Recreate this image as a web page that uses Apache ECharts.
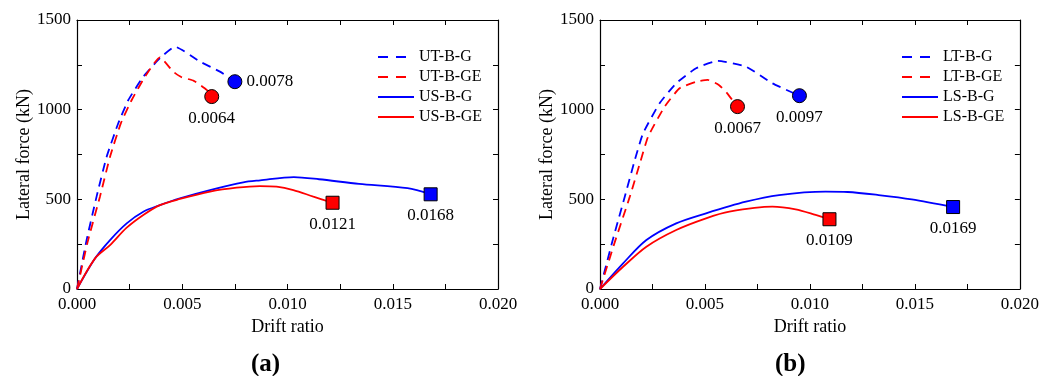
<!DOCTYPE html>
<html>
<head>
<meta charset="utf-8">
<script src="https://cdn.jsdelivr.net/npm/echarts@6/dist/echarts.min.js"></script>
<style>
  html, body { margin: 0; padding: 0; background: #fff; }
  #chart { width: 1042px; height: 376px; }
</style>
</head>
<body>
<div id="chart"></div>
<script>
// [drift ratio, lateral force kN]
const UT_B_G = [[0, 0], [0.00045, 270], [0.00093, 515], [0.00141, 738], [0.00196, 924], [0.00244, 1054],
  [0.00315, 1184], [0.00394, 1287], [0.00466, 1351], [0.00584, 1268], [0.00679, 1212], [0.0075, 1156]];
const UT_B_GE = [[0, 0], [0.0005, 260], [0.00109, 515], [0.00157, 738], [0.00209, 926], [0.0026, 1054],
  [0.00323, 1184], [0.00394, 1292], [0.00457, 1212], [0.00497, 1181], [0.00553, 1162], [0.00616, 1110], [0.0064, 1073]];
const US_B_G = [[0, 0], [0.00086, 171], [0.00157, 273], [0.00236, 366], [0.00315, 431], [0.00394, 468],
  [0.00489, 506], [0.00632, 552], [0.0079, 595], [0.0087, 606], [0.0103, 624], [0.0115, 612],
  [0.0134, 586], [0.0157, 562], [0.0168, 528]];
const US_B_GE = [[0, 0], [0.00086, 171], [0.00157, 245], [0.00236, 342], [0.00315, 413], [0.00394, 468],
  [0.00489, 502], [0.00632, 543], [0.00758, 565], [0.00869, 574], [0.00948, 571], [0.01028, 552],
  [0.01123, 515], [0.01214, 481]];

const LT_B_G = [[0, 0], [0.0006, 270], [0.00118, 515], [0.00166, 720], [0.00205, 868], [0.00284, 1036],
  [0.00363, 1147], [0.00458, 1231], [0.00561, 1272], [0.00695, 1240], [0.00821, 1147], [0.0095, 1078]];
const LT_B_GE = [[0, 0], [0.0007, 260], [0.00142, 515], [0.0019, 701], [0.00229, 849], [0.00308, 1017],
  [0.00379, 1119], [0.00458, 1156], [0.00513, 1166], [0.00566, 1138], [0.00606, 1091], [0.0063, 1054], [0.00655, 1017]];
const LS_B_G = [[0, 0], [0.0011, 143], [0.00221, 273], [0.00363, 366], [0.00505, 422], [0.00695, 487],
  [0.00853, 524], [0.01074, 543], [0.0118, 541], [0.01327, 524], [0.01485, 500], [0.01682, 457]];
const LS_B_GE = [[0, 0], [0.0011, 124], [0.00221, 236], [0.00363, 329], [0.00505, 394], [0.00616, 431],
  [0.00821, 459], [0.00932, 444], [0.01027, 413], [0.01093, 389]];

// end points: [drift, force, label text, label side]
const endsA = [[0.0075, 1156, '0.0078', 'right'], [0.0064, 1073, '0.0064', 'bottom'],
  [0.0168, 528, '0.0168', 'bottom'], [0.01214, 481, '0.0121', 'bottom']];
const endsB = [[0.0095, 1078, '0.0097', 'bottom'], [0.00655, 1017, '0.0067', 'bottom'],
  [0.01682, 457, '0.0169', 'bottom'], [0.01093, 389, '0.0109', 'bottom']];
const endColors = ['#0000ff', '#ff0000', '#0000ff', '#ff0000'];
const endSymbols = ['circle', 'circle', 'rect', 'rect'];

const namesA = ['UT-B-G', 'UT-B-GE', 'US-B-G', 'US-B-GE'];
const namesB = ['LT-B-G', 'LT-B-GE', 'LS-B-G', 'LS-B-GE'];

const FONT = 'Liberation Serif';
const BLUE = '#0000ff', RED = '#ff0000';

const chart = echarts.init(document.getElementById('chart'));

function xAx(grid, pos) {
  const main = pos === 'bottom';
  return {
    type: 'value', gridIndex: grid, position: pos, min: 0, max: 0.02, interval: 0.0025,
    name: main ? 'Drift ratio' : '', nameLocation: 'middle', nameGap: 29,
    nameTextStyle: {fontFamily: FONT, fontSize: 18, color: '#000'},
    axisLine: {show: true, onZero: false, lineStyle: {color: '#000', width: 1.2}},
    axisTick: {show: true, inside: true, length: 5, lineStyle: {color: '#000'}},
    axisLabel: {
      show: main, fontFamily: FONT, fontSize: 17, color: '#000', margin: 7,
      formatter: v => (Math.round(v * 10000) % 50 === 0 ? v.toFixed(3) : '')
    },
    splitLine: {show: false}
  };
}
function yAx(grid, pos) {
  const main = pos === 'left';
  return {
    type: 'value', gridIndex: grid, position: pos, min: 0, max: 1500, interval: 250,
    name: main ? 'Lateral force (kN)' : '', nameLocation: 'middle', nameGap: 40,
    nameTextStyle: {fontFamily: FONT, fontSize: 18, color: '#000'},
    axisLine: {show: true, onZero: false, lineStyle: {color: '#000', width: 1.2}},
    axisTick: {show: true, inside: true, length: 5, lineStyle: {color: '#000'}},
    axisLabel: {
      show: main, fontFamily: FONT, fontSize: 17, color: '#000', margin: 6,
      formatter: v => (v % 500 === 0 ? String(v) : '')
    },
    splitLine: {show: false}
  };
}

function line(name, data, color, dashed, xi, yi) {
  return {
    name, type: 'line', data, xAxisIndex: xi, yAxisIndex: yi,
    symbol: 'none', smooth: dashed ? 0.15 : 0.3,
    lineStyle: {color, width: 1.8, type: dashed ? [9, 6] : 'solid'},
    itemStyle: {color},
    z: 2
  };
}

function ends(list, xi, yi) {
  return {
    type: 'scatter', xAxisIndex: xi, yAxisIndex: yi, z: 5,
    data: list.map((e, i) => ({
      value: [e[0], e[1]],
      symbol: endSymbols[i],
      symbolSize: endSymbols[i] === 'circle' ? 14 : 13,
      itemStyle: {color: endColors[i], opacity: 1, borderColor: '#000', borderWidth: 1},
      label: {
        show: true, formatter: e[2], position: e[3], distance: e[3] === 'right' ? 4 : 6,
        fontFamily: FONT, fontSize: 17, color: '#000'
      }
    }))
  };
}

function legend(names, left) {
  return {
    data: names.map((n, i) => (i < 2 ? {name: n, lineStyle: {type: [10, 8]}} : {name: n})),
    orient: 'vertical', left, top: 49, padding: 0,
    itemWidth: 36, itemHeight: 12, itemGap: 4,
    itemStyle: {opacity: 0},
    textStyle: {fontFamily: FONT, fontSize: 16, color: '#000'}
  };
}

chart.setOption({
  animation: false,
  grid: [
    {left: 77, top: 20, width: 421, height: 269},
    {left: 600, top: 20, width: 422, height: 269}
  ],
  xAxis: [xAx(0, 'bottom'), xAx(0, 'top'), xAx(1, 'bottom'), xAx(1, 'top')],
  yAxis: [yAx(0, 'left'), yAx(0, 'right'), yAx(1, 'left'), yAx(1, 'right')],
  legend: [legend(namesA, 377), legend(namesB, 901)],
  graphic: [
    {type: 'text', left: 251, top: 352, style: {text: '(a)', fontFamily: FONT, fontWeight: 'bold', fontSize: 25, fill: '#000'}},
    {type: 'text', left: 775, top: 352, style: {text: '(b)', fontFamily: FONT, fontWeight: 'bold', fontSize: 25, fill: '#000'}}
  ],
  series: [
    line('UT-B-G', UT_B_G, BLUE, true, 0, 0),
    line('UT-B-GE', UT_B_GE, RED, true, 0, 0),
    line('US-B-G', US_B_G, BLUE, false, 0, 0),
    line('US-B-GE', US_B_GE, RED, false, 0, 0),
    ends(endsA, 0, 0),
    line('LT-B-G', LT_B_G, BLUE, true, 2, 2),
    line('LT-B-GE', LT_B_GE, RED, true, 2, 2),
    line('LS-B-G', LS_B_G, BLUE, false, 2, 2),
    line('LS-B-GE', LS_B_GE, RED, false, 2, 2),
    ends(endsB, 2, 2)
  ]
});
</script>
</body>
</html>
